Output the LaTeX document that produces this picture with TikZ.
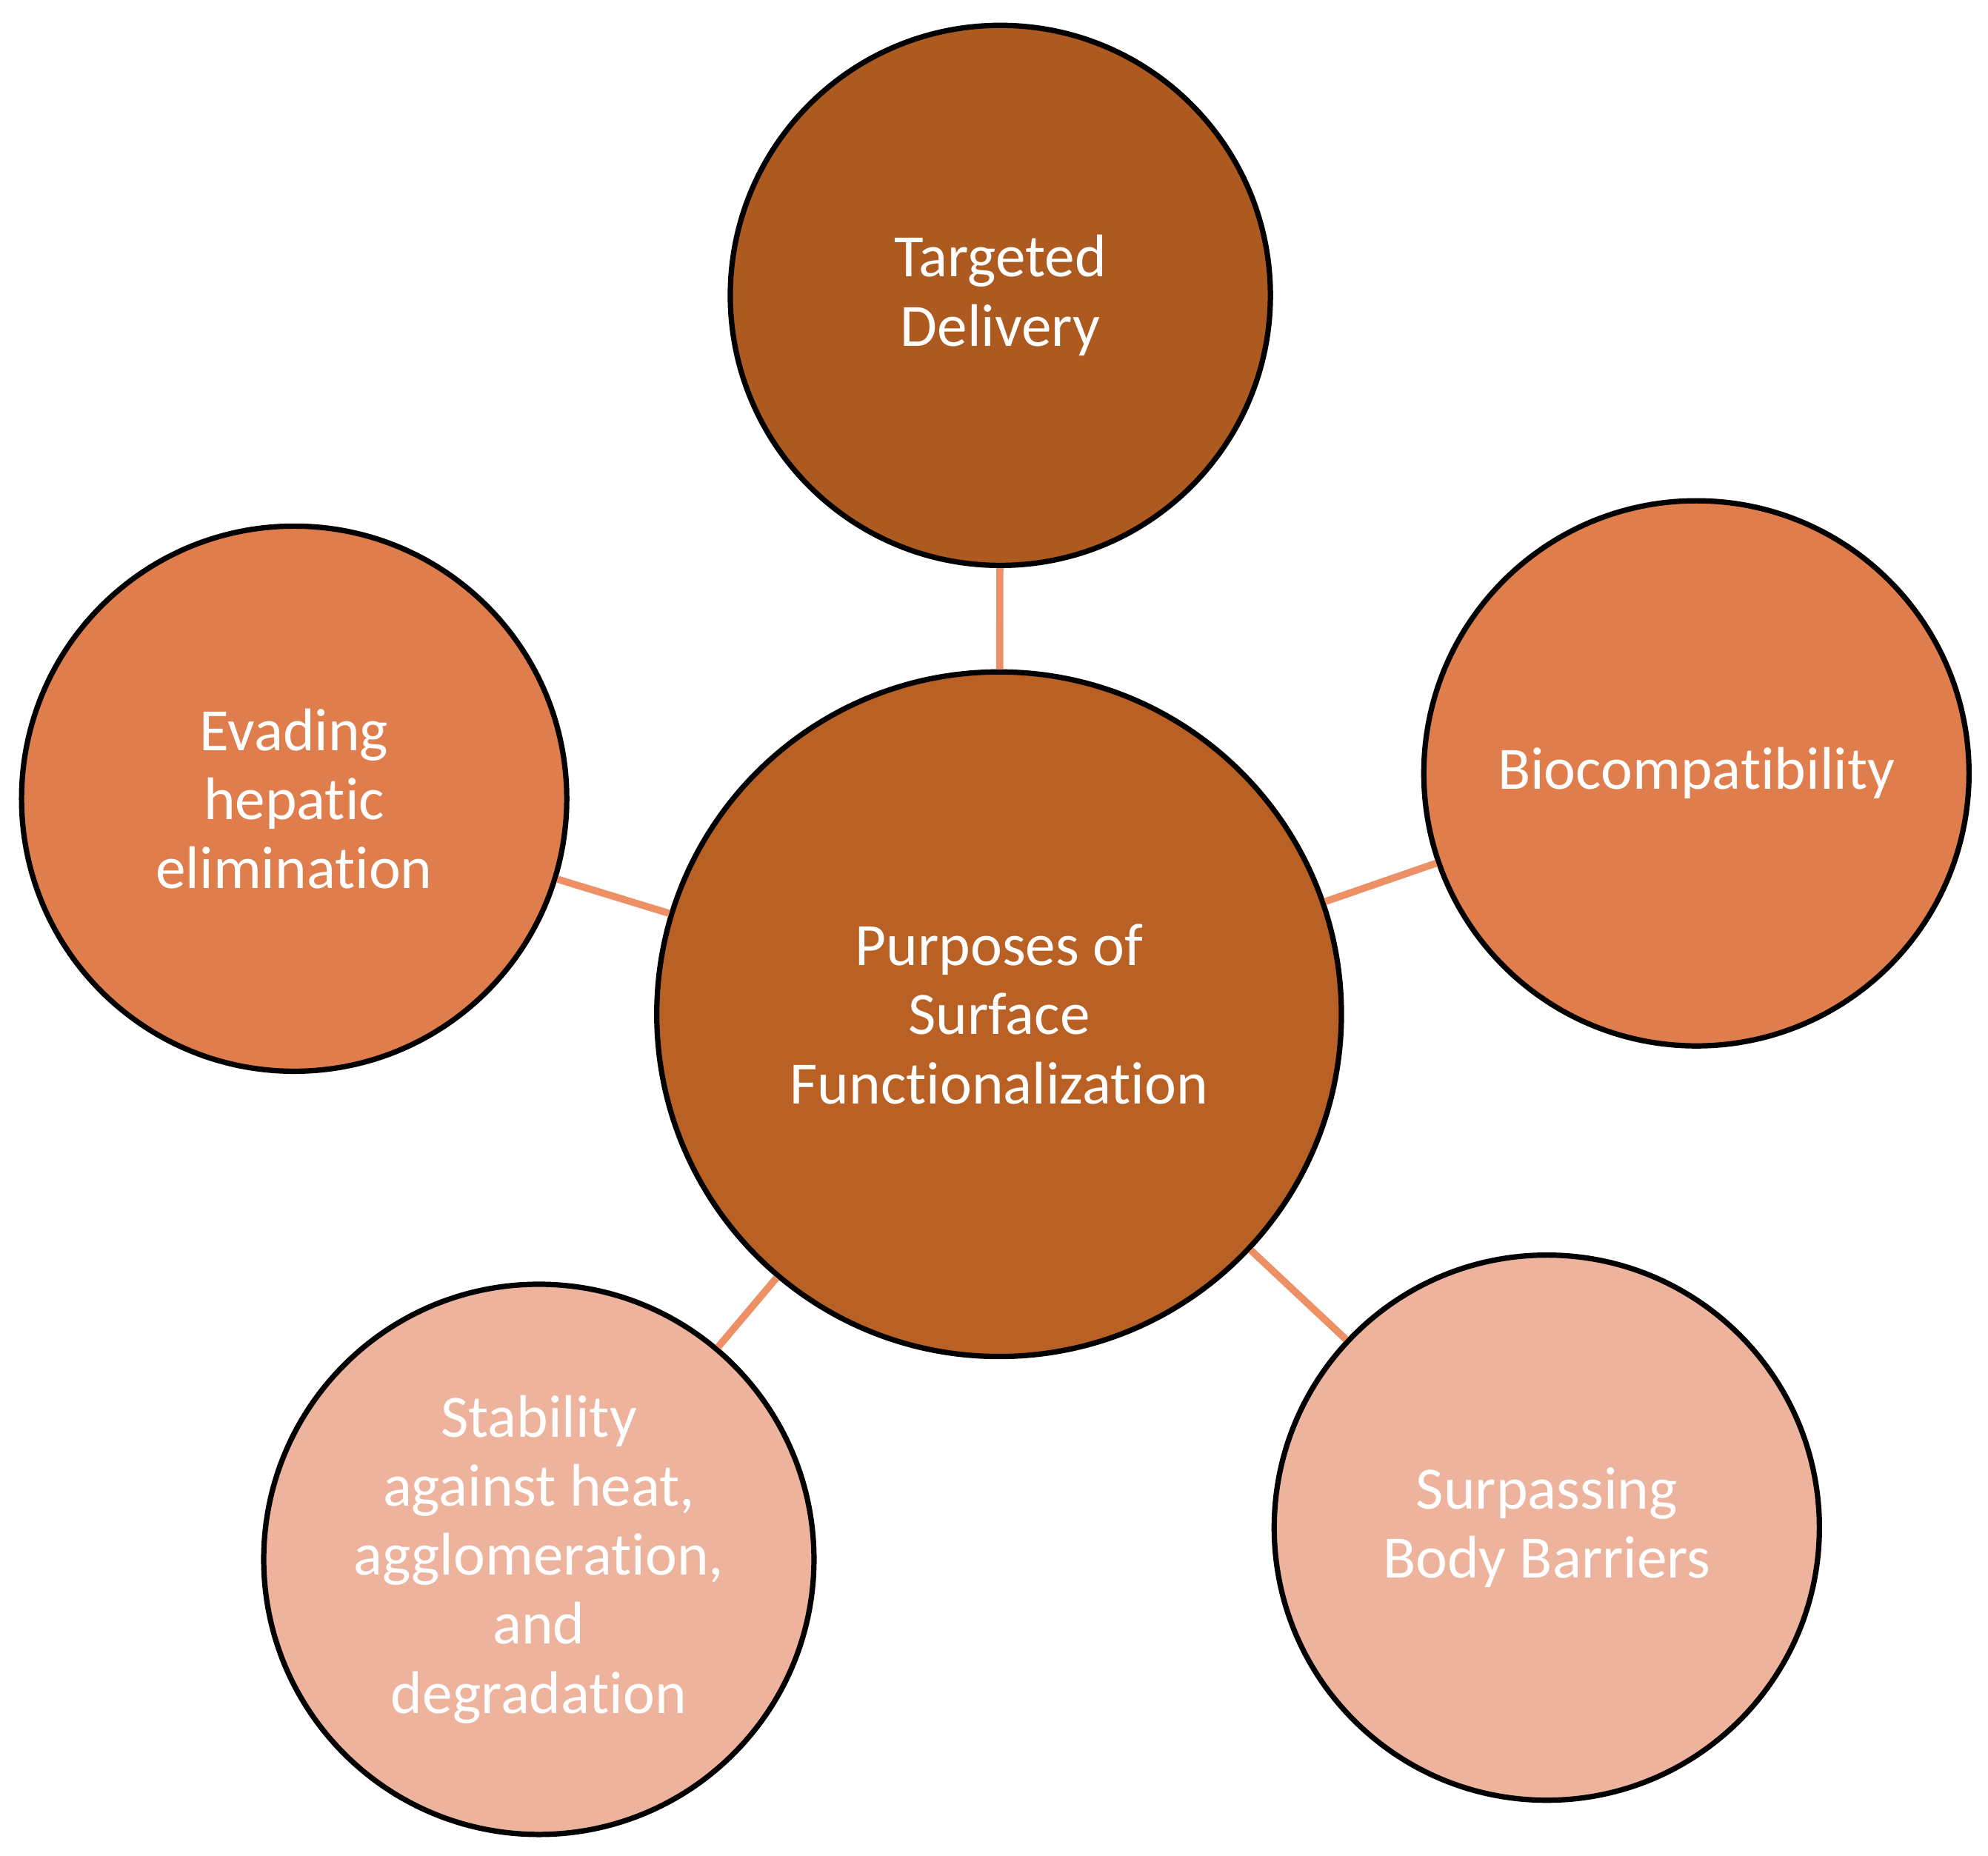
\documentclass[tikz,border=0pt]{standalone}
\usepackage{fontspec}
\setmainfont{Carlito}[Ligatures=NoCommon]
\usetikzlibrary{positioning}
\definecolor{darkrust}{HTML}{AD5A20}
\definecolor{midrust}{HTML}{B96124}
\definecolor{orangeclay}{HTML}{E07D4C}
\definecolor{peach}{HTML}{EDB39C}
\definecolor{linkcol}{HTML}{EE9066}
\tikzset{bubble/.style={circle, draw=black, line width=1.2pt, inner sep=0pt, align=center,
    text=white, font=\fontsize{13.5}{15.5}\selectfont},
  link/.style={draw=linkcol, line width=1.6pt}}

\begin{document}
\begin{tikzpicture}
			\useasboundingbox (0,0) rectangle (15.68,-14.64);
			% Bubbles
			\node[bubble, fill=midrust, minimum size=5.4cm] (hub) at (7.88,-8.00) {Purposes of\\Surface\\Functionalization};
			\node[bubble, fill=darkrust, minimum size=4.26cm] (target) at (7.89,-2.33) {Targeted\\Delivery};
			\node[bubble, fill=orangeclay, minimum size=4.3cm] (biocomp) at (13.38,-6.10) {Biocompatibility};
			\node[bubble, fill=orangeclay, minimum size=4.3cm] (hepatic) at (2.32,-6.30) {Evading\\hepatic\\elimination};
			\node[bubble, fill=peach, minimum size=4.34cm] (stable) at (4.25,-12.30) {Stability\\against heat,\\agglomeration,\\and\\degradation};
			\node[bubble, fill=peach, minimum size=4.3cm] (barrier) at (12.20,-12.05) {Surpassing\\Body Barriers};
			% Links
			\path[link]
			(hub) edge (target)
			(hub) edge (biocomp)
			(hub) edge (hepatic)
			(hub) edge (stable)
			(hub) edge (barrier);
		\end{tikzpicture}
\end{document}
